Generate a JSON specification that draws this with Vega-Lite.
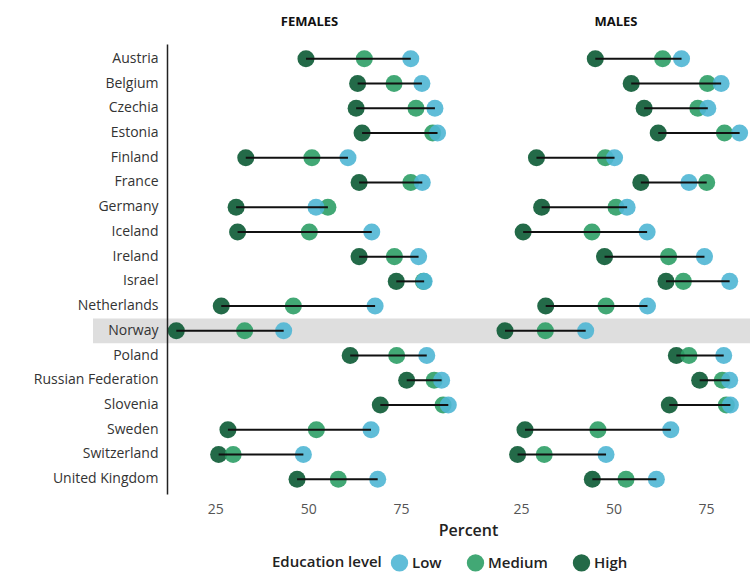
{
  "$schema": "https://vega.github.io/schema/vega-lite/v6.json",
  "background": "white",
  "padding": {"left": 33, "top": 16, "right": 0, "bottom": 0},
  "bounds": "flush",
  "spacing": 0,
  "config": {
    "font": "Open Sans",
    "view": {"stroke": null},
    "axis": {"grid": false, "ticks": false}
  },
  "data": {
    "values": [
      {"sex": "Females", "country": "Austria", "level": "High", "value": 49.4},
      {"sex": "Females", "country": "Austria", "level": "Medium", "value": 65.1},
      {"sex": "Females", "country": "Austria", "level": "Low", "value": 77.6},
      {"sex": "Females", "country": "Belgium", "level": "High", "value": 63.3},
      {"sex": "Females", "country": "Belgium", "level": "Medium", "value": 73.1},
      {"sex": "Females", "country": "Belgium", "level": "Low", "value": 80.6},
      {"sex": "Females", "country": "Czechia", "level": "High", "value": 62.9},
      {"sex": "Females", "country": "Czechia", "level": "Medium", "value": 79.0},
      {"sex": "Females", "country": "Czechia", "level": "Low", "value": 84.1},
      {"sex": "Females", "country": "Estonia", "level": "High", "value": 64.5},
      {"sex": "Females", "country": "Estonia", "level": "Medium", "value": 83.5},
      {"sex": "Females", "country": "Estonia", "level": "Low", "value": 84.8},
      {"sex": "Females", "country": "Finland", "level": "High", "value": 33.2},
      {"sex": "Females", "country": "Finland", "level": "Medium", "value": 51.0},
      {"sex": "Females", "country": "Finland", "level": "Low", "value": 60.7},
      {"sex": "Females", "country": "France", "level": "High", "value": 63.7},
      {"sex": "Females", "country": "France", "level": "Medium", "value": 77.6},
      {"sex": "Females", "country": "France", "level": "Low", "value": 80.7},
      {"sex": "Females", "country": "Germany", "level": "High", "value": 30.6},
      {"sex": "Females", "country": "Germany", "level": "Medium", "value": 55.3},
      {"sex": "Females", "country": "Germany", "level": "Low", "value": 52.1},
      {"sex": "Females", "country": "Iceland", "level": "High", "value": 31.0},
      {"sex": "Females", "country": "Iceland", "level": "Medium", "value": 50.3},
      {"sex": "Females", "country": "Iceland", "level": "Low", "value": 67.1},
      {"sex": "Females", "country": "Ireland", "level": "High", "value": 63.7},
      {"sex": "Females", "country": "Ireland", "level": "Medium", "value": 73.2},
      {"sex": "Females", "country": "Ireland", "level": "Low", "value": 79.7},
      {"sex": "Females", "country": "Israel", "level": "High", "value": 73.7},
      {"sex": "Females", "country": "Israel", "level": "Medium", "value": 81.0},
      {"sex": "Females", "country": "Israel", "level": "Low", "value": 81.2},
      {"sex": "Females", "country": "Netherlands", "level": "High", "value": 26.6},
      {"sex": "Females", "country": "Netherlands", "level": "Medium", "value": 46.0},
      {"sex": "Females", "country": "Netherlands", "level": "Low", "value": 68.0},
      {"sex": "Females", "country": "Norway", "level": "High", "value": 14.5},
      {"sex": "Females", "country": "Norway", "level": "Medium", "value": 32.9},
      {"sex": "Females", "country": "Norway", "level": "Low", "value": 43.4},
      {"sex": "Females", "country": "Poland", "level": "High", "value": 61.3},
      {"sex": "Females", "country": "Poland", "level": "Medium", "value": 73.8},
      {"sex": "Females", "country": "Poland", "level": "Low", "value": 81.9},
      {"sex": "Females", "country": "Russian Federation", "level": "High", "value": 76.5},
      {"sex": "Females", "country": "Russian Federation", "level": "Medium", "value": 83.9},
      {"sex": "Females", "country": "Russian Federation", "level": "Low", "value": 85.9},
      {"sex": "Females", "country": "Slovenia", "level": "High", "value": 69.4},
      {"sex": "Females", "country": "Slovenia", "level": "Medium", "value": 86.3},
      {"sex": "Females", "country": "Slovenia", "level": "Low", "value": 87.7},
      {"sex": "Females", "country": "Sweden", "level": "High", "value": 28.4},
      {"sex": "Females", "country": "Sweden", "level": "Medium", "value": 52.2},
      {"sex": "Females", "country": "Sweden", "level": "Low", "value": 66.9},
      {"sex": "Females", "country": "Switzerland", "level": "High", "value": 25.9},
      {"sex": "Females", "country": "Switzerland", "level": "Medium", "value": 29.8},
      {"sex": "Females", "country": "Switzerland", "level": "Low", "value": 48.7},
      {"sex": "Females", "country": "United Kingdom", "level": "High", "value": 47.0},
      {"sex": "Females", "country": "United Kingdom", "level": "Medium", "value": 58.1},
      {"sex": "Females", "country": "United Kingdom", "level": "Low", "value": 68.7},
      {"sex": "Males", "country": "Austria", "level": "High", "value": 45.1},
      {"sex": "Males", "country": "Austria", "level": "Medium", "value": 63.3},
      {"sex": "Males", "country": "Austria", "level": "Low", "value": 68.4},
      {"sex": "Males", "country": "Belgium", "level": "High", "value": 54.8},
      {"sex": "Males", "country": "Belgium", "level": "Medium", "value": 75.4},
      {"sex": "Males", "country": "Belgium", "level": "Low", "value": 79.1},
      {"sex": "Males", "country": "Czechia", "level": "High", "value": 58.3},
      {"sex": "Males", "country": "Czechia", "level": "Medium", "value": 72.8},
      {"sex": "Males", "country": "Czechia", "level": "Low", "value": 75.5},
      {"sex": "Males", "country": "Estonia", "level": "High", "value": 62.1},
      {"sex": "Males", "country": "Estonia", "level": "Medium", "value": 80.0},
      {"sex": "Males", "country": "Estonia", "level": "Low", "value": 84.1},
      {"sex": "Males", "country": "Finland", "level": "High", "value": 29.2},
      {"sex": "Males", "country": "Finland", "level": "Medium", "value": 47.8},
      {"sex": "Males", "country": "Finland", "level": "Low", "value": 50.3},
      {"sex": "Males", "country": "France", "level": "High", "value": 57.4},
      {"sex": "Males", "country": "France", "level": "Medium", "value": 75.2},
      {"sex": "Males", "country": "France", "level": "Low", "value": 70.4},
      {"sex": "Males", "country": "Germany", "level": "High", "value": 30.6},
      {"sex": "Males", "country": "Germany", "level": "Medium", "value": 50.7},
      {"sex": "Males", "country": "Germany", "level": "Low", "value": 53.7},
      {"sex": "Males", "country": "Iceland", "level": "High", "value": 25.6},
      {"sex": "Males", "country": "Iceland", "level": "Medium", "value": 44.2},
      {"sex": "Males", "country": "Iceland", "level": "Low", "value": 59.1},
      {"sex": "Males", "country": "Ireland", "level": "High", "value": 47.6},
      {"sex": "Males", "country": "Ireland", "level": "Medium", "value": 64.9},
      {"sex": "Males", "country": "Ireland", "level": "Low", "value": 74.6},
      {"sex": "Males", "country": "Israel", "level": "High", "value": 64.2},
      {"sex": "Males", "country": "Israel", "level": "Medium", "value": 68.9},
      {"sex": "Males", "country": "Israel", "level": "Low", "value": 81.4},
      {"sex": "Males", "country": "Netherlands", "level": "High", "value": 31.7},
      {"sex": "Males", "country": "Netherlands", "level": "Medium", "value": 48.0},
      {"sex": "Males", "country": "Netherlands", "level": "Low", "value": 59.2},
      {"sex": "Males", "country": "Norway", "level": "High", "value": 20.7},
      {"sex": "Males", "country": "Norway", "level": "Medium", "value": 31.6},
      {"sex": "Males", "country": "Norway", "level": "Low", "value": 42.5},
      {"sex": "Males", "country": "Poland", "level": "High", "value": 67.0},
      {"sex": "Males", "country": "Poland", "level": "Medium", "value": 70.4},
      {"sex": "Males", "country": "Poland", "level": "Low", "value": 79.8},
      {"sex": "Males", "country": "Russian Federation", "level": "High", "value": 73.3},
      {"sex": "Males", "country": "Russian Federation", "level": "Medium", "value": 79.4},
      {"sex": "Males", "country": "Russian Federation", "level": "Low", "value": 81.4},
      {"sex": "Males", "country": "Slovenia", "level": "High", "value": 65.1},
      {"sex": "Males", "country": "Slovenia", "level": "Medium", "value": 80.5},
      {"sex": "Males", "country": "Slovenia", "level": "Low", "value": 81.6},
      {"sex": "Males", "country": "Sweden", "level": "High", "value": 26.1},
      {"sex": "Males", "country": "Sweden", "level": "Medium", "value": 45.8},
      {"sex": "Males", "country": "Sweden", "level": "Low", "value": 65.5},
      {"sex": "Males", "country": "Switzerland", "level": "High", "value": 24.1},
      {"sex": "Males", "country": "Switzerland", "level": "Medium", "value": 31.3},
      {"sex": "Males", "country": "Switzerland", "level": "Low", "value": 48.0},
      {"sex": "Males", "country": "United Kingdom", "level": "High", "value": 44.3},
      {"sex": "Males", "country": "United Kingdom", "level": "Medium", "value": 53.4},
      {"sex": "Males", "country": "United Kingdom", "level": "Low", "value": 61.6}
    ]
  },
  "resolve": {"scale": {"color": "shared"}},
  "hconcat": [
    {
      "width": 74,
      "height": 450,
      "transform": [{"filter": "datum.country === 'Norway' && datum.sex === 'Females' && datum.level === 'High'"}],
      "mark": {"type": "rect", "color": "#dedede"},
      "encoding": {
        "y": {
          "field": "country", "type": "nominal",
          "scale": {"domain": ["Austria","Belgium","Czechia","Estonia","Finland","France","Germany","Iceland","Ireland","Israel","Netherlands","Norway","Poland","Russian Federation","Slovenia","Sweden","Switzerland","United Kingdom"], "paddingInner": 0, "paddingOuter": 0.1},
          "axis": null
        }
      }
    },
    {
      "width": 301,
      "height": 450,
      "title": {"text": "FEMALES", "fontSize": 13, "fontWeight": "bold", "color": "#111", "offset": 15, "dx": -8},
      "transform": [{"filter": "datum.sex === 'Females'"}],
      "encoding": {
        "y": {
          "field": "country", "type": "nominal",
          "scale": {"domain": ["Austria","Belgium","Czechia","Estonia","Finland","France","Germany","Iceland","Ireland","Israel","Netherlands","Norway","Poland","Russian Federation","Slovenia","Sweden","Switzerland","United Kingdom"], "paddingInner": 0, "paddingOuter": 0.1},
          "axis": {"title": null, "domain": true, "domainColor": "#222", "domainWidth": 1.5, "ticks": false, "labelFontSize": 14, "labelColor": "#333", "labelPadding": 9, "zindex": 1}
        }
      },
      "layer": [
        {
          "transform": [{"filter": "datum.country === 'Norway' && datum.level === 'High'"}],
          "mark": {"type": "rect", "color": "#dedede"}
        },
        {
          "mark": {"type": "circle", "size": 290, "opacity": 0.9},
          "encoding": {
            "x": {
              "field": "value", "type": "quantitative", "title": "Percent",
              "scale": {"domain": [12, 93], "nice": false, "zero": false},
              "axis": {"values": [25, 50, 75], "domain": false, "ticks": false, "grid": false, "labelFontSize": 14, "labelColor": "#555", "labelPadding": 8, "labelFlush": false, "titleAnchor": "end", "titleAlign": "center", "titleFontSize": 16, "titleFontWeight": 600, "titleColor": "#222", "titlePadding": 6}
            },
            "color": {
              "field": "level", "type": "nominal", "title": "Education level",
              "scale": {"domain": ["Low", "Medium", "High"], "range": ["#4FB6D4", "#2E9F66", "#0B5A34"]},
              "legend": {"orient": "none", "legendX": 179, "legendY": 509, "direction": "horizontal", "titleOrient": "left", "symbolType": "circle", "symbolSize": 300, "symbolOpacity": 1, "labelFontSize": 15, "labelFontWeight": 600, "labelColor": "#222", "titleFontSize": 15, "titleFontWeight": 600, "titleColor": "#222", "titlePadding": 8, "columnPadding": 24, "labelOffset": 3}
            }
          }
        },
        {
          "mark": {"type": "rule", "color": "#111", "strokeWidth": 2},
          "encoding": {
            "x": {"aggregate": "min", "field": "value", "type": "quantitative", "title": "Percent"},
            "x2": {"aggregate": "max", "field": "value"}
          }
        }
      ]
    },
    {
      "width": 282,
      "height": 450,
      "title": {"text": "MALES", "fontSize": 13, "fontWeight": "bold", "color": "#111", "offset": 15, "dx": 7},
      "transform": [{"filter": "datum.sex === 'Males'"}],
      "encoding": {
        "y": {
          "field": "country", "type": "nominal",
          "scale": {"domain": ["Austria","Belgium","Czechia","Estonia","Finland","France","Germany","Iceland","Ireland","Israel","Netherlands","Norway","Poland","Russian Federation","Slovenia","Sweden","Switzerland","United Kingdom"], "paddingInner": 0, "paddingOuter": 0.1},
          "axis": null
        }
      },
      "layer": [
        {
          "transform": [{"filter": "datum.country === 'Norway' && datum.level === 'High'"}],
          "mark": {"type": "rect", "color": "#dedede"}
        },
        {
          "mark": {"type": "circle", "size": 290, "opacity": 0.9},
          "encoding": {
            "x": {
              "field": "value", "type": "quantitative", "title": null,
              "scale": {"domain": [10.7, 86.9], "nice": false, "zero": false},
              "axis": {"values": [25, 50, 75], "domain": false, "ticks": false, "grid": false, "labelFontSize": 14, "labelColor": "#555", "labelPadding": 8, "labelFlush": false, "title": null}
            },
            "color": {
              "field": "level", "type": "nominal", "title": "Education level",
              "scale": {"domain": ["Low", "Medium", "High"], "range": ["#4FB6D4", "#2E9F66", "#0B5A34"]}
            }
          }
        },
        {
          "mark": {"type": "rule", "color": "#111", "strokeWidth": 2},
          "encoding": {
            "x": {"aggregate": "min", "field": "value", "type": "quantitative", "title": null},
            "x2": {"aggregate": "max", "field": "value"}
          }
        }
      ]
    }
  ]
}
